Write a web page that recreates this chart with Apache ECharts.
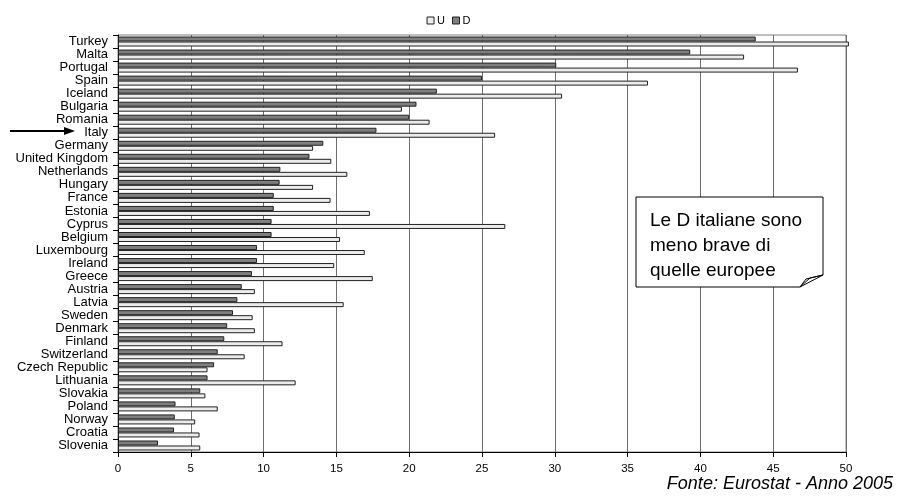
<!DOCTYPE html>
<html>
<head>
<meta charset="utf-8">
<script src="https://cdn.jsdelivr.net/npm/echarts@6/dist/echarts.min.js"></script>
<style>html,body{margin:0;padding:0;background:#fff;}#c{width:897px;height:497px;}</style>
</head>
<body>
<div id="c"></div>
<script>
const categories = ["Turkey","Malta","Portugal","Spain","Iceland","Bulgaria","Romania","Italy","Germany","United Kingdom","Netherlands","Hungary","France","Estonia","Cyprus","Belgium","Luxembourg","Ireland","Greece","Austria","Latvia","Sweden","Denmark","Finland","Switzerland","Czech Republic","Lithuania","Slovakia","Poland","Norway","Croatia","Slovenia"];
const valuesU = [50.2,43.0,46.7,36.4,30.5,19.5,21.4,25.9,13.4,14.65,15.75,13.4,14.6,17.3,26.6,15.25,16.95,14.85,17.5,9.4,15.5,9.25,9.4,11.3,8.7,6.15,12.2,6.0,6.85,5.3,5.6,5.65];
const valuesD = [43.8,39.3,30.1,25.0,21.9,20.5,20.0,17.75,14.1,13.15,11.15,11.1,10.7,10.7,10.55,10.55,9.55,9.55,9.2,8.5,8.2,7.9,7.5,7.3,6.85,6.6,6.15,5.65,3.95,3.9,3.85,2.75];
const xTicks = {min: 0, max: 50, interval: 5};
const legendLabels = ["U","D"];

const chart = echarts.init(document.getElementById('c'));
chart.setOption({
  animation: false,
  textStyle: {fontFamily: 'Liberation Sans, Arial, sans-serif'},
  legend: {
    data: legendLabels,
    top: 10, left: 'center',
    itemWidth: 7, itemHeight: 7, itemGap: 7,
    icon: 'rect',
    itemStyle: {borderWidth: 1},
    textStyle: {fontSize: 11, color: '#000', padding: [0,0,0,-2]}
  },
  grid: {left: 118, right: 51, top: 35, bottom: 45, show: true, borderColor: '#808080', borderWidth: 1},
  xAxis: {
    type: 'value', min: xTicks.min, max: xTicks.max, interval: xTicks.interval,
    axisLine: {show: true, lineStyle: {color: '#000', width: 1}},
    axisTick: {show: true, length: 5, lineStyle: {color: '#000'}},
    splitLine: {show: true, lineStyle: {color: '#6e6e6e', width: 1}},
    axisLabel: {fontSize: 11.5, color: '#000', margin: 11, fontFamily: 'Liberation Sans Narrow, Liberation Sans, sans-serif'}
  },
  yAxis: {
    type: 'category', data: categories, inverse: true,
    axisLine: {show: true, lineStyle: {color: '#000', width: 1}},
    axisTick: {show: true, length: 5, alignWithLabel: false, lineStyle: {color: '#000'}},
    axisLabel: {fontSize: 13, color: '#000', margin: 10, interval: 0, lineHeight: 13}
  },
  series: [
    {name: 'D', type: 'bar', data: valuesD, barWidth: 5, barGap: '0%',
     itemStyle: {color: '#7f7f7f', borderColor: '#222', borderWidth: 1}},
    {name: 'U', type: 'bar', data: valuesU, barWidth: 5, barGap: '0%', clip: false,
     itemStyle: {color: '#ececec', borderColor: '#222', borderWidth: 1}}
  ],
  graphic: [
    {type: 'line', shape: {x1: 10, y1: 131, x2: 66, y2: 131}, style: {stroke: '#000', lineWidth: 2}},
    {type: 'polygon', shape: {points: [[75,131],[64,127],[64,135]]}, style: {fill: '#000'}},
    {type: 'polygon', shape: {points: [[636,197],[823,197],[823,275],[800,287],[636,287]]},
     style: {fill: '#fff', stroke: '#000', lineWidth: 1}, z: 100},
    {type: 'polyline', shape: {points: [[800,287],[806,279],[823,275],[810,278],[800,287]]},
     style: {fill: '#fff', stroke: '#000', lineWidth: 1}, z: 101},
    {type: 'text', left: 650, top: 208, z: 102,
     style: {text: 'Le D italiane sono\nmeno brave di\nquelle europee', fontSize: 19, lineHeight: 25, fill: '#000', fontFamily: 'Liberation Sans, Arial, sans-serif'}},
    {type: 'text', right: 4, top: 475, z: 102,
     style: {text: 'Fonte: Eurostat - Anno 2005', fontSize: 18, fontStyle: 'italic', fill: '#000', fontFamily: 'Liberation Sans Narrow, Liberation Sans, sans-serif'}}
  ]
});
</script>
</body>
</html>
